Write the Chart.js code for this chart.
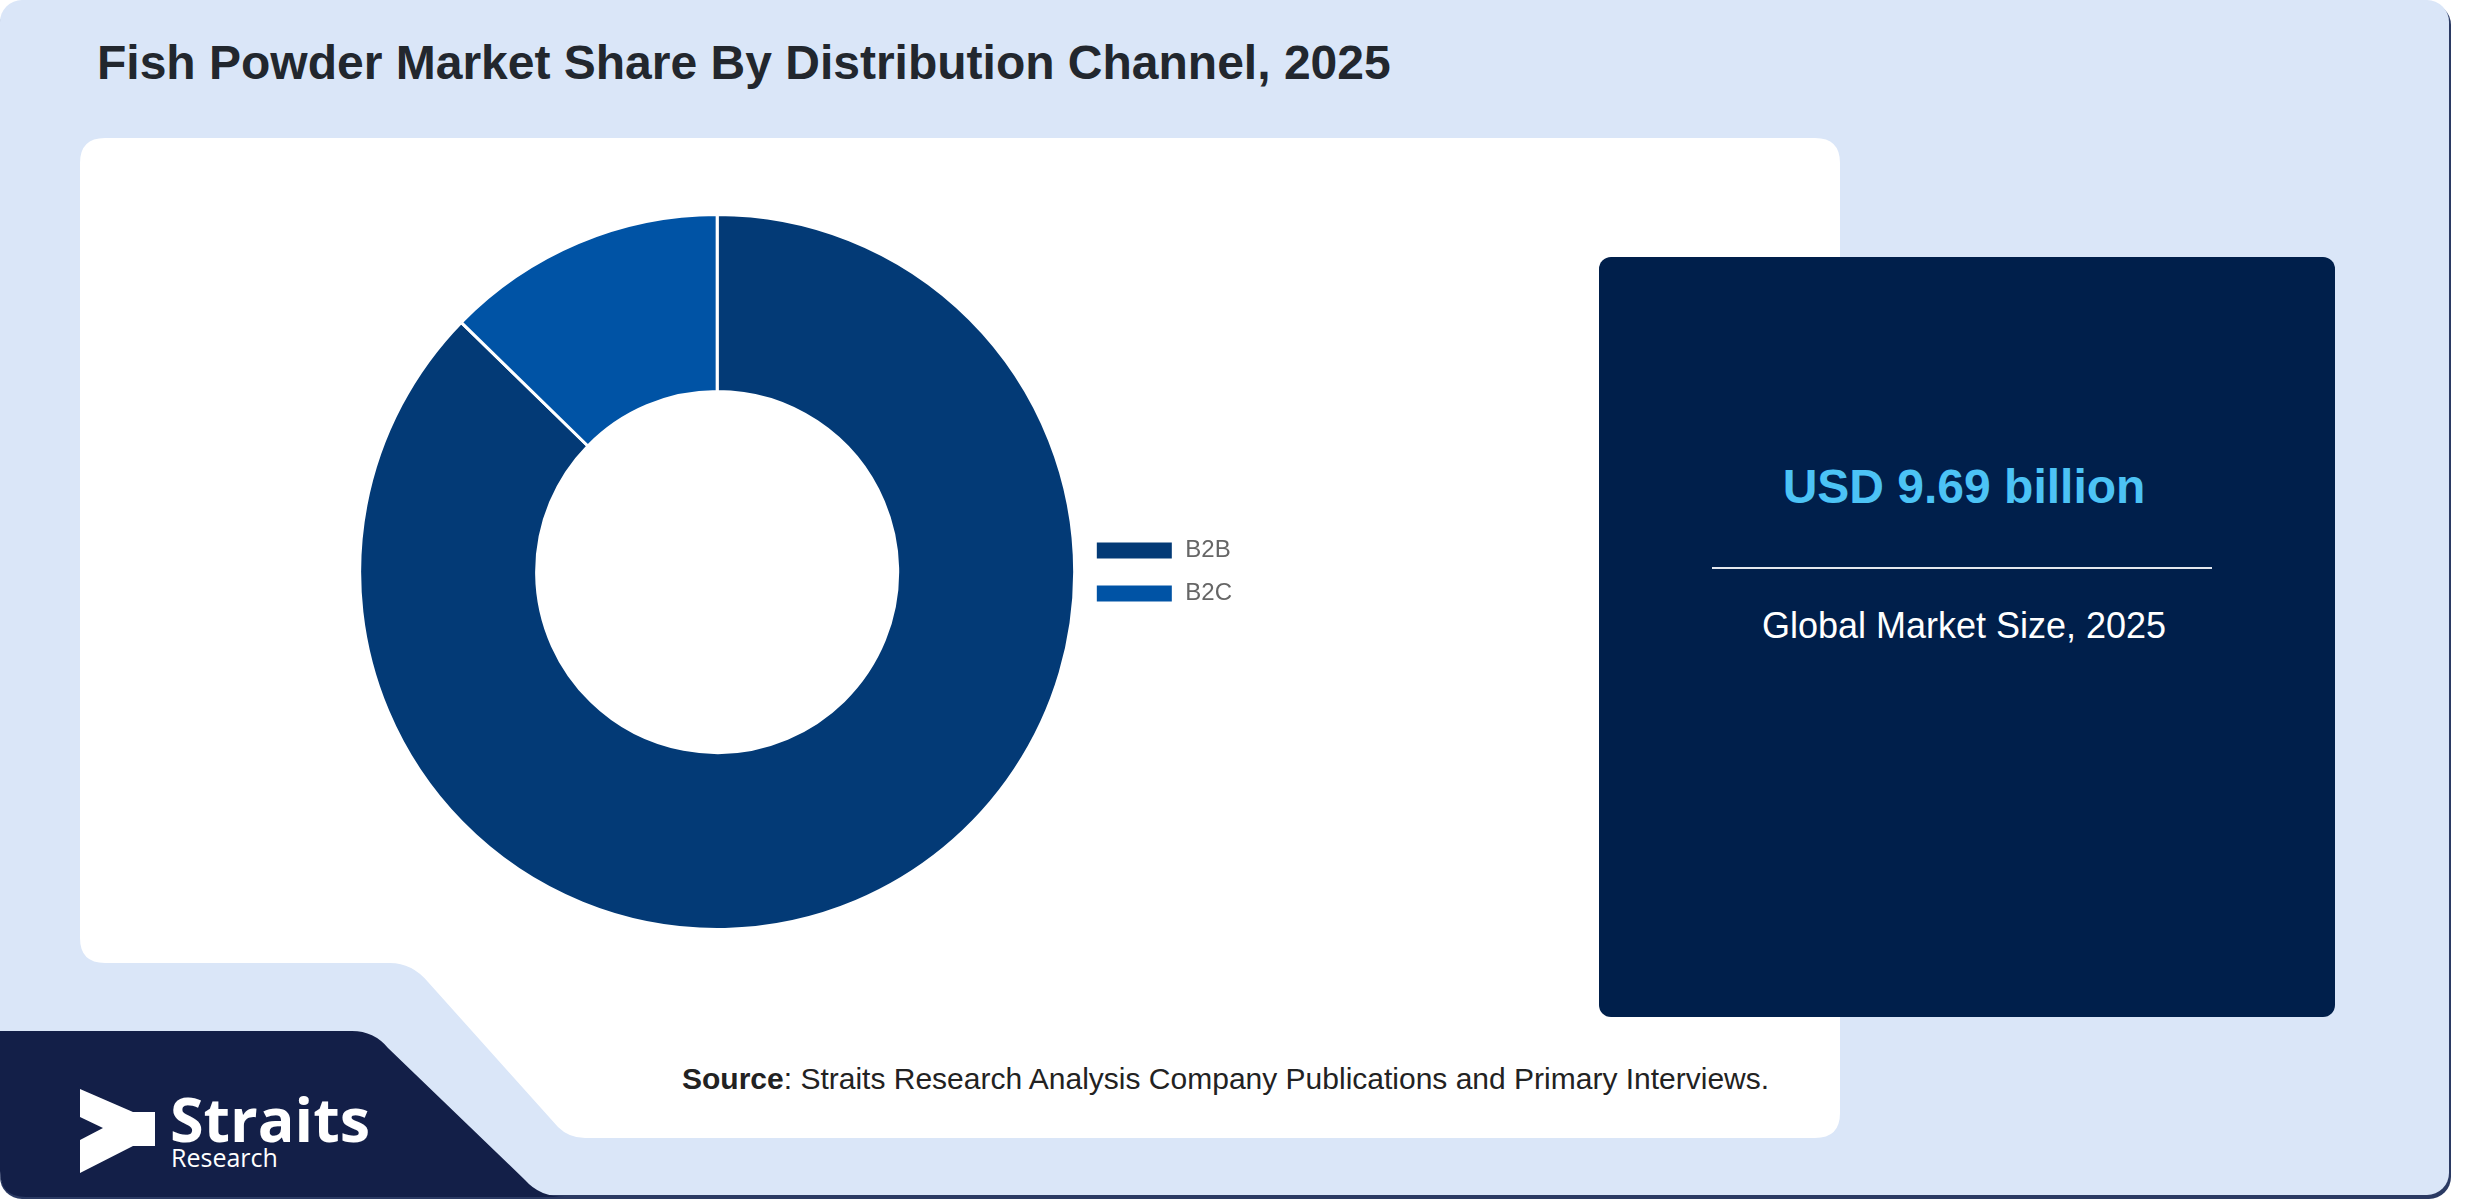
<!DOCTYPE html>
<html>
<head>
<meta charset="utf-8">
<title>Fish Powder Market Share By Distribution Channel, 2025</title>
<script src="https://cdn.jsdelivr.net/npm/chart.js@4.4.1/dist/chart.umd.min.js"></script>
<style>
  html, body { margin: 0; padding: 0; background: #ffffff; }
  #page { position: relative; width: 2480px; height: 1200px; overflow: hidden; font-family: "Liberation Sans", Arial, sans-serif; }
  #bg { position: absolute; left: 0; top: 0; }
  #share-chart { position: absolute; left: 358px; top: 213px; }
</style>
</head>
<body>
<div id="page">
  <svg id="bg" width="2480" height="1200" xmlns="http://www.w3.org/2000/svg">
    <!-- outer card + shadow -->
    <rect x="0" y="3" width="2451" height="1196" rx="22" fill="#2b3a63"/>
    <rect x="0" y="0" width="2449" height="1195" rx="22" fill="#dae6f8"/>
    <!-- white panel with the notch at bottom left -->
    <path d="M105 138 H1815 Q1840 138 1840 163 V1113 Q1840 1138 1815 1138 H585 Q569 1138 558 1127 L428 982 Q412 963 390 963 H105 Q80 963 80 938 V163 Q80 138 105 138 Z" fill="#ffffff"/>
    <!-- navy footer -->
    <path d="M0 1031 H352 Q374 1031 388 1048 L525 1180 Q540 1197 565 1197 H26 Q0 1197 0 1171 Z" fill="#131f48"/>
    <!-- logo -->
    <polygon points="80,1089 133,1112 155,1112 155,1146 133,1146 80,1173 80,1140 103,1128 80,1117" fill="#ffffff"/>
    <text x="170" y="1142" font-family="'Open Sans', sans-serif" font-weight="700" font-size="61" fill="#ffffff">Straits</text>
    <text x="171" y="1167" font-family="'Open Sans', sans-serif" font-size="25" fill="#ffffff">Research</text>
    <!-- title -->
    <text x="97" y="79" font-weight="700" font-size="48" fill="#22272e">Fish Powder Market Share By Distribution Channel, 2025</text>
    <!-- market size box -->
    <rect x="1599" y="257" width="736" height="760" rx="12" fill="#001f4b"/>
    <text x="1964" y="503" text-anchor="middle" font-weight="700" font-size="48" fill="#4cc3f5">USD 9.69 billion</text>
    <line x1="1712" y1="568" x2="2212" y2="568" stroke="#e3e7ee" stroke-width="2"/>
    <text x="1964" y="638" text-anchor="middle" font-size="36" fill="#ffffff">Global Market Size, 2025</text>
    <!-- source -->
    <text x="682" y="1089" font-size="30" fill="#222222"><tspan font-weight="700">Source</tspan>: Straits Research Analysis Company Publications and Primary Interviews.</text>
  </svg>
  <canvas id="share-chart" width="884" height="718"></canvas>
</div>
<script>
var channels = ["B2B", "B2C"];
var shares = [87.3, 12.7];
var channelColors = ["#033a76", "#0053a5"];

(function () {
    "use strict";
    var ctx = document.getElementById("share-chart").getContext("2d");
    Chart.defaults.font.family = '"Liberation Sans", Arial, sans-serif';
    new Chart(ctx, {
        type: "doughnut",
        data: {
            labels: channels,
            datasets: [
                {
                    data: shares,
                    backgroundColor: channelColors,
                    borderColor: "#ffffff",
                    borderWidth: 3,
                    hoverOffset: 0,
                },
            ],
        },
        options: {
            responsive: false,
            animation: false,
            cutout: "50.5%",
            layout: { padding: 0 },
            plugins: {
                tooltip: { enabled: false },
                legend: {
                    display: true,
                    position: "right",
                    labels: {
                        boxWidth: 78,
                        boxHeight: 19,
                        padding: 19,
                        color: "#666666",
                        font: { size: 24 },
                    },
                },
            },
        },
    });
})();
</script>
</body>
</html>
